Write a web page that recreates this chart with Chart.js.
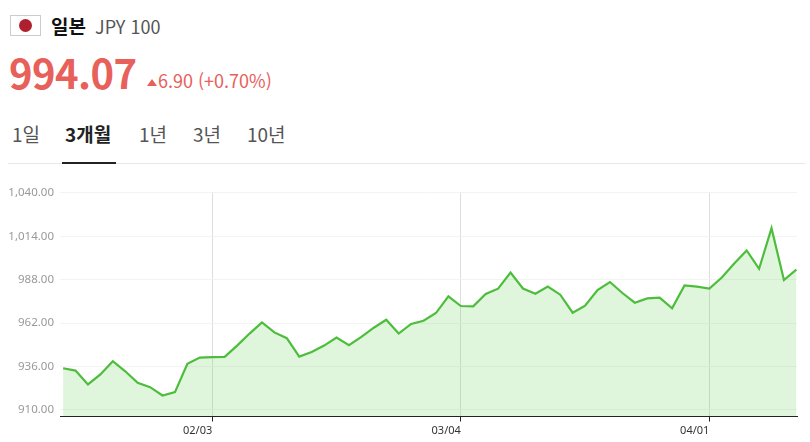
<!DOCTYPE html>
<html lang="ko">
<head>
<meta charset="utf-8">
<title>JPY 100</title>
<script src="https://cdn.jsdelivr.net/npm/chart.js@4/dist/chart.umd.min.js"></script>
<style>
    html, body { margin: 0; padding: 0; background: #fff; }
    body { width: 810px; height: 442px; position: relative; overflow: hidden; font-family: "Noto Sans CJK KR", "Noto Sans", sans-serif; }
    .abs { position: absolute; white-space: nowrap; line-height: 1; }
    .flag { left: 10px; top: 15px; width: 29px; height: 19px; border: 1px solid #ccc; }
    .flag i { position: absolute; left: 8px; top: 3px; width: 13px; height: 13px; border-radius: 50%; background: #b01f2e; }
    .country { left: 51px; top: 16px; font-size: 19px; font-weight: 700; color: #111; }
    .code { left: 95px; top: 17px; font-size: 18px; color: #555; }
    .price { left: 9px; top: 52px; font-size: 40px; font-weight: 700; letter-spacing: -0.6px; color: #e8605a; }
    .tri { left: 147px; top: 79px; width: 0; height: 0; border-left: 5px solid transparent; border-right: 5px solid transparent; border-bottom: 7px solid #e8605a; }
    .change { left: 158px; top: 71px; font-size: 18px; color: #e8605a; }
    .tab { top: 124px; font-size: 19px; color: #555; }
    .tab.on { font-weight: 700; color: #222; }
    .line { left: 8px; top: 163px; width: 797px; height: 1px; background: #e8e8e8; }
    .under { left: 62px; top: 162px; width: 54px; height: 2px; background: #222; }
    canvas { position: absolute; left: 0; top: 180px; }
</style>
</head>
<body>
<div class="abs flag"><i></i></div>
<div class="abs country">일본</div>
<div class="abs code">JPY 100</div>
<div class="abs price">994.07</div>
<div class="abs tri"></div>
<div class="abs change">6.90 (+0.70%)</div>
<div class="abs tab" style="left:12px">1일</div>
<div class="abs tab on" style="left:65px">3개월</div>
<div class="abs tab" style="left:139px">1년</div>
<div class="abs tab" style="left:193px">3년</div>
<div class="abs tab" style="left:247px">10년</div>
<div class="abs line"></div>
<div class="abs under"></div>
<canvas id="rateChart" width="810" height="262"></canvas>
<script>
const rates = [
    934.9, 933.5, 925.2, 931.2, 939.1, 933.1, 926.2, 923.6, 918.6, 920.6,
    937.6, 941.3, 941.6, 941.7, 948.5, 955.7, 962.4, 956.4, 952.9, 941.9,
    944.7, 948.5, 953.3, 948.7, 953.7, 959.2, 964.0, 955.7, 961.5, 963.4,
    968.0, 978.0, 972.2, 972.0, 979.4, 982.6, 992.3, 982.7, 979.6, 983.9,
    979.0, 968.2, 972.4, 981.8, 986.6, 980.0, 974.2, 976.8, 977.2, 970.8,
    984.5, 983.8, 982.6, 989.3, 997.7, 1005.5, 994.5, 1018.8, 987.8, 994.07
];
const dateTickIndexes = [12, 32, 52];
const dateTickLabels = ['02/03', '03/04', '04/01'];
const rateTicks = [910, 936, 962, 988, 1014, 1040];

const points = rates.map((rate, i) => ({ x: i, y: rate }));

new Chart(document.getElementById('rateChart').getContext('2d'), {
    type: 'line',
    data: {
        datasets: [{
            data: points,
            borderColor: '#4dbd3c',
            borderWidth: 2.2,
            backgroundColor: 'rgba(84, 200, 70, 0.19)',
            fill: 'start',
            pointRadius: 0,
            tension: 0
        }]
    },
    options: {
        responsive: false,
        animation: false,
        layout: { padding: { top: 11, right: 13, left: 0, bottom: 0 } },
        plugins: { legend: { display: false }, tooltip: { enabled: false } },
        scales: {
            x: {
                type: 'linear',
                min: -0.25,
                max: 59.05,
                afterBuildTicks: scale => {
                    scale.ticks = dateTickIndexes.map(value => ({ value }));
                },
                afterFit: scale => { scale.height = 25.5; },
                border: { color: '#222', width: 1 },
                grid: { color: '#dedede', tickColor: '#222', tickLength: 5, lineWidth: 1 },
                ticks: {
                    maxRotation: 0,
                    align: 'end',
                    padding: 3,
                    color: '#333',
                    font: { size: 11, family: '"Noto Sans", sans-serif' },
                    callback: value => dateTickLabels[dateTickIndexes.indexOf(value)]
                }
            },
            y: {
                min: 906,
                max: 1040,
                afterBuildTicks: scale => {
                    scale.ticks = rateTicks.map(value => ({ value }));
                },
                afterFit: scale => { scale.width = 60; },
                border: { display: false },
                grid: { color: '#f3f3f3', lineWidth: 1, drawTicks: false },
                ticks: {
                    padding: 6,
                    color: '#999',
                    font: { size: 11.5, family: '"Noto Sans", sans-serif' },
                    callback: value => value.toLocaleString('en-US', { minimumFractionDigits: 2, maximumFractionDigits: 2 })
                }
            }
        }
    }
});
</script>
</body>
</html>
